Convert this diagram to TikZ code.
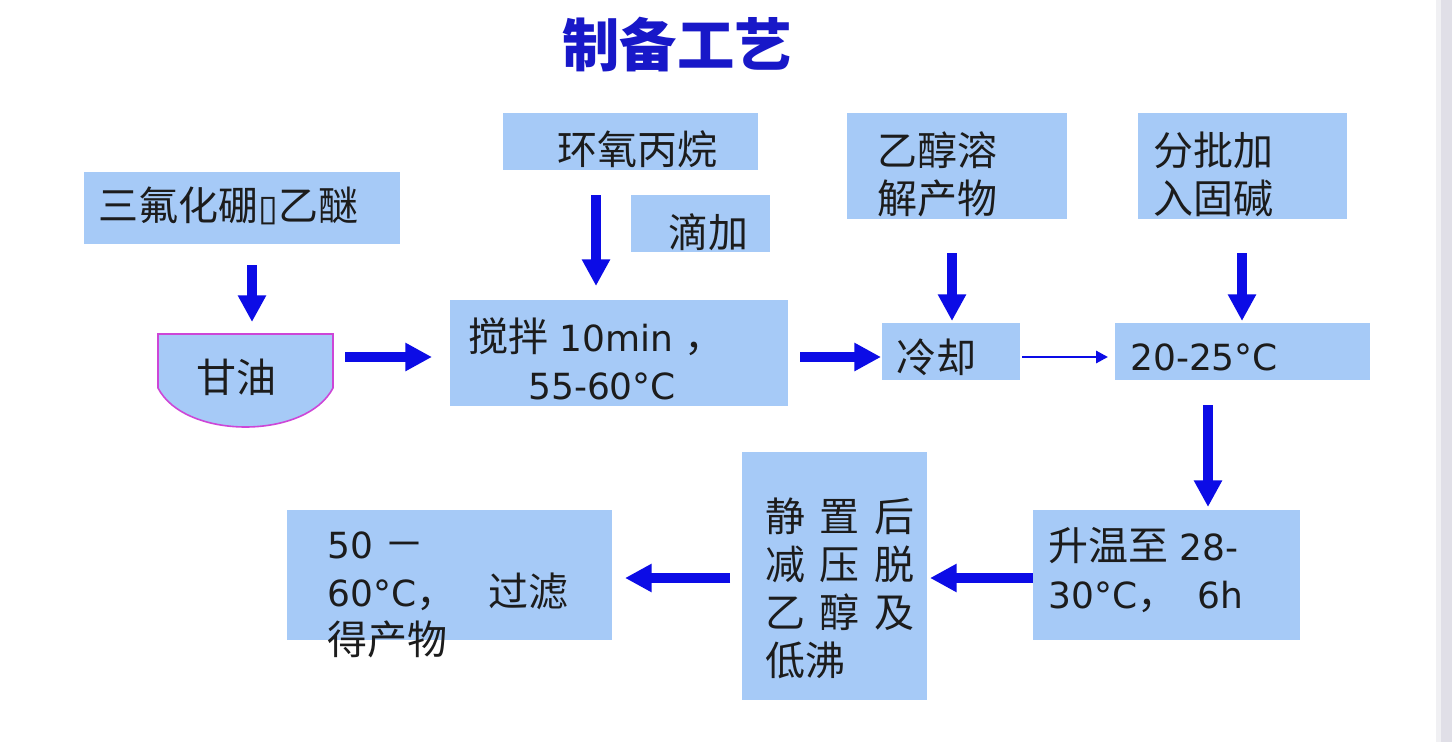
\documentclass[tikz,border=0pt]{standalone}
\usepackage{fontspec}
\setmainfont{DejaVu Sans}[Scale=0.9]
\newfontfamily\cjk{Noto Sans CJK SC}
\usetikzlibrary{arrows.meta,fit}
\definecolor{boxblue}{RGB}{166,202,247}
\definecolor{arrblue}{RGB}{12,12,230}
\definecolor{titleblue}{RGB}{24,24,200}
\definecolor{txtgray}{RGB}{28,28,28}
\definecolor{stripgray}{RGB}{224,223,231}
\definecolor{stripline}{RGB}{240,240,243}
\definecolor{bowlline}{RGB}{205,70,215}
\begin{document}
\begin{tikzpicture}[x=0.75pt,y=-0.75pt,
  box/.style={fill=boxblue,draw=none,inner sep=0pt,outer sep=0pt},
  txt/.style={text=txtgray,font=\fontsize{30pt}{36pt}\selectfont,inner sep=0pt,align=left,anchor=west},
  cjktxt/.style={txt,font=\fontsize{30pt}{36pt}\selectfont\cjk},
  arr/.style={draw=arrblue,line width=7pt,-{Triangle[length=20pt,width=20pt]}},
  thinarr/.style={draw=arrblue,line width=2.2pt,-{Triangle[length=9pt,width=9pt]}}]
% background and bounding box
\fill[white] (0,0) rectangle (1452,742);
\useasboundingbox (0,0) rectangle (1452,742);
\fill[stripline] (1436,0) rectangle (1441,742);
\fill[stripgray] (1441,0) rectangle (1452,742);

% title
\node[font=\fontsize{43pt}{43pt}\selectfont\cjk\bfseries,text=titleblue,inner sep=0pt] (title) at (677,45) {制备工艺};

% boxes
\node[box,fit={(84,172)(400,244)}] (bf3) {};
\node[box,fit={(503,113)(758,170)}] (epo) {};
\node[box,fit={(631,195)(770,252)}] (drip) {};
\node[box,fit={(450,300)(788,406)}] (stir) {};
\node[box,fit={(882,323)(1020,380)}] (cool) {};
\node[box,fit={(847,113)(1067,219)}] (etoh) {};
\node[box,fit={(1138,113)(1347,219)}] (base) {};
\node[box,fit={(1115,323)(1370,380)}] (temp) {};
\node[box,fit={(1033,510)(1300,640)}] (heat) {};
\node[box,fit={(742,452)(927,700)}] (dist) {};
\node[box,fit={(287,510)(612,640)}] (prod) {};

% glycerol bowl
\fill[boxblue] (158,334) -- (333,334) -- (333,388) .. controls (306,440) and (185,440) .. (158,388) -- cycle;
\draw[bowlline,line width=1.2pt] (158,334) -- (333,334) -- (333,388) .. controls (306,440) and (185,440) .. (158,388) -- cycle;

% texts
\node[txt] (tbf3) at (98,206) {{\cjk 三氟化硼}▯{\cjk 乙醚}};
\node[cjktxt,anchor=center] (gly) at (236,377) {甘油};
\node[cjktxt] (tepo) at (557,149) {环氧丙烷};
\node[cjktxt] (tdrip) at (668,232) {滴加};
\node[txt] (tstir) at (468,359) {{\cjk 搅拌} 10min {\cjk ，}\\\hspace*{45pt}55-60°C};
\node[cjktxt] (tcool) at (896,357) {冷却};
\node[cjktxt] (tetoh) at (877,174) {乙醇溶\\解产物};
\node[cjktxt] (tbase) at (1153,174) {分批加\\入固碱};
\node[txt] (ttemp) at (1130,357) {20-25°C};
\node[txt] (theat) at (1048,570) {{\cjk 升温至} 28-\\30°C{\cjk ，}\hspace{15pt}6h};
\node[cjktxt] (tdist) at (765,588) {静\hspace{11pt}置\hspace{11pt}后\\减\hspace{11pt}压\hspace{11pt}脱\\乙\hspace{11pt}醇\hspace{11pt}及\\低沸};
\node[txt] (tprod) at (327,595) {50 {\cjk －}\\60°C{\cjk ，}\hspace{24pt}{\cjk 过滤}\\{\cjk 得产物}};

% arrow end points
\coordinate (a1s) at (252,265); \coordinate (a1e) at (252,322);
\coordinate (a2s) at (345,357); \coordinate (a2e) at (432,357);
\coordinate (a3s) at (596,195); \coordinate (a3e) at (596,286);
\coordinate (a4s) at (800,357); \coordinate (a4e) at (881,357);
\coordinate (a5s) at (1022,357); \coordinate (a5e) at (1108,357);
\coordinate (a6s) at (952,253); \coordinate (a6e) at (952,321);
\coordinate (a7s) at (1242,253); \coordinate (a7e) at (1242,321);
\coordinate (a8s) at (1208,405); \coordinate (a8e) at (1208,507);
\coordinate (a9s) at (1033,578); \coordinate (a9e) at (930,578);
\coordinate (a10s) at (730,578); \coordinate (a10e) at (625,578);

\draw[arr] (a1s) -- (a1e);
\draw[arr] (a2s) -- (a2e);
\draw[arr] (a3s) -- (a3e);
\draw[arr] (a4s) -- (a4e);
\draw[thinarr] (a5s) -- (a5e);
\draw[arr] (a6s) -- (a6e);
\draw[arr] (a7s) -- (a7e);
\draw[arr] (a8s) -- (a8e);
\draw[arr] (a9s) -- (a9e);
\draw[arr] (a10s) -- (a10e);
\end{tikzpicture}
\end{document}
